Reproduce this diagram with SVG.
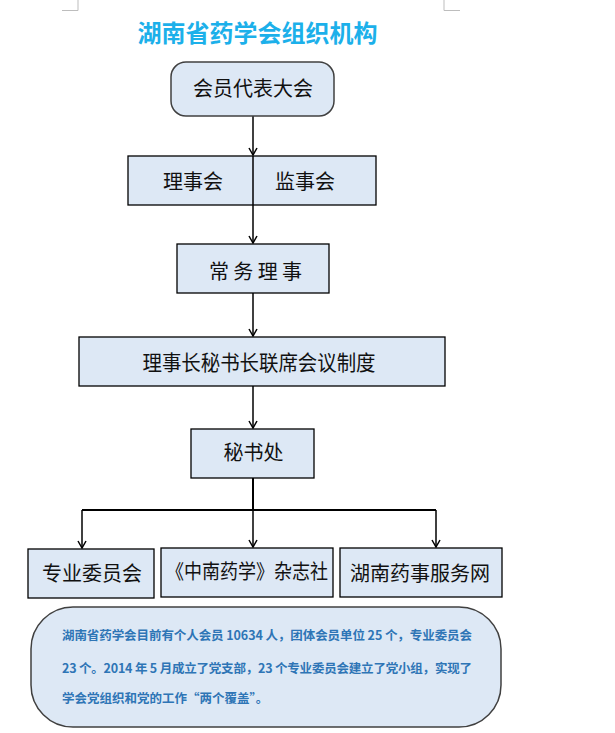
<svg xmlns="http://www.w3.org/2000/svg" width="615" height="733" viewBox="0 0 615 733">
<style>
.box{fill:#dde8f5;stroke:#000;stroke-width:1.3}
.rbox{fill:#dde8f5;stroke:#404040;stroke-width:1.5}
.lbl{font-family:"Noto Sans CJK SC","Noto Sans",sans-serif;font-size:20px;fill:#111;text-anchor:middle}
.body{font-family:"Noto Sans CJK SC","Noto Sans",sans-serif;font-size:12.5px;font-weight:bold;fill:#2e75b6}
.title{font-family:"Noto Sans CJK SC","Noto Sans",sans-serif;font-size:24px;font-weight:bold;fill:#1cb0ea;text-anchor:middle}
.con{fill:none;stroke:#000;stroke-width:1.5}
.crop{fill:none;stroke:#bdbdbd;stroke-width:1}
</style>
<defs>
<marker id="arr" markerUnits="userSpaceOnUse" markerWidth="10" markerHeight="10" refX="8.5" refY="5" orient="auto" viewBox="0 0 10 10">
<path d="M1.5,1 L8.5,5 L1.5,9" fill="none" stroke="#000" stroke-width="1.5"/>
</marker>
</defs>
<rect width="615" height="733" fill="#fff"/>
<path class="crop" d="M78,0 V10.5 H62 M444,0 V10.5 H460"/>
<text class="title" x="257.5" y="42">湖南省药学会组织机构</text>

<g id="connectors">
<path class="con" d="M253,116 V155" marker-end="url(#arr)"/>
<path class="con" d="M253,205 V243" marker-end="url(#arr)"/>
<path class="con" d="M253,293 V336" marker-end="url(#arr)"/>
<path class="con" d="M253,386 V428" marker-end="url(#arr)"/>
<path class="con" style="stroke-width:2" d="M253,478 V510 M82,510 H436"/>
<path class="con" d="M82,510 V548" marker-end="url(#arr)"/>
<path class="con" d="M253,510 V547" marker-end="url(#arr)"/>
<path class="con" d="M436,510 V547" marker-end="url(#arr)"/>
</g>

<g id="n-congress">
<rect class="rbox" x="171" y="62" width="163" height="54" rx="15"/>
<text class="lbl" x="253" y="95.5">会员代表大会</text>
</g>
<g id="n-councils">
<rect class="box" x="128" y="156" width="248" height="49"/>
<line x1="253" y1="156" x2="253" y2="205" stroke="#000" stroke-width="1.5"/>
<text class="lbl" x="193" y="188.5">理事会</text>
<text class="lbl" x="305" y="188.5">监事会</text>
</g>
<g id="n-standing">
<rect class="box" x="177" y="244" width="152" height="49"/>
<text class="lbl" x="209" y="278.5" style="text-anchor:start" textLength="93" lengthAdjust="spacing">常务理事</text>
</g>
<g id="n-joint">
<rect class="box" x="79" y="337" width="366" height="49"/>
<text class="lbl" x="259" y="370" style="font-size:21px" textLength="233" lengthAdjust="spacingAndGlyphs">理事长秘书长联席会议制度</text>
</g>
<g id="n-secretariat">
<rect class="box" x="191" y="429" width="123" height="49"/>
<text class="lbl" x="253.5" y="459.5">秘书处</text>
</g>
<g id="n-committees">
<rect class="box" x="28" y="549" width="126" height="49"/>
<text class="lbl" x="92" y="580.5">专业委员会</text>
</g>
<g id="n-journal">
<rect class="box" x="161" y="548" width="172" height="49"/>
<text class="lbl" x="247" y="579" textLength="162" lengthAdjust="spacingAndGlyphs">《中南药学》杂志社</text>
</g>
<g id="n-web">
<rect class="box" x="340" y="548" width="162" height="49"/>
<text class="lbl" x="420" y="581">湖南药事服务网</text>
</g>
<g id="n-note">
<rect class="rbox" x="31" y="607" width="470" height="120" rx="42"/>
<text class="body" x="62" y="640" textLength="410" lengthAdjust="spacing">湖南省药学会目前有个人会员 10634 人，团体会员单位 25 个，专业委员会</text>
<text class="body" x="62" y="673" textLength="410" lengthAdjust="spacing">23 个。2014 年 5 月成立了党支部，23 个专业委员会建立了党小组，实现了</text>
<text class="body" x="62" y="703">学会党组织和党的工作“两个覆盖”。</text>
</g>
</svg>
